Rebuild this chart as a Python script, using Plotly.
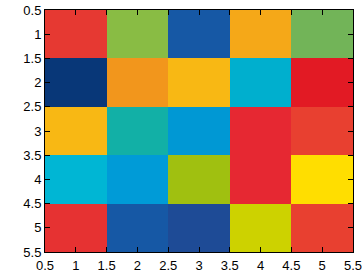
import plotly.graph_objects as go

# Cell colours (RGB), row by row (row 1 at top)
row1 = [[230, 57, 50], [137, 188, 68], [22, 88, 165], [245, 168, 24], [114, 180, 88]]
row2 = [[8, 55, 120], [242, 150, 28], [248, 184, 20], [0, 175, 206], [226, 26, 36]]
row3 = [[248, 184, 20], [18, 176, 166], [0, 152, 212], [230, 40, 50], [232, 64, 48]]
row4 = [[0, 182, 212], [0, 155, 215], [160, 192, 16], [230, 40, 50], [255, 222, 0]]
row5 = [[230, 50, 50], [22, 88, 165], [30, 75, 150], [205, 210, 0], [232, 64, 48]]
rgb = [row1, row2, row3, row4, row5]

tick_vals = [0.5, 1, 1.5, 2, 2.5, 3, 3.5, 4, 4.5, 5, 5.5]
tick_text = ["0.5", "1", "1.5", "2", "2.5", "3", "3.5", "4", "4.5", "5", "5.5"]

fig = go.Figure(go.Image(z=rgb, x0=1, dx=1, y0=1, dy=1, hoverinfo="skip"))

axis_style = dict(
    tickmode="array", tickvals=tick_vals, ticktext=tick_text,
    ticks="inside", ticklen=5, tickwidth=1, tickcolor="black",
    showline=True, linecolor="black", linewidth=1, mirror="ticks",
    showgrid=False, zeroline=False, automargin=False,
    tickfont=dict(family="Liberation Sans, Arial, sans-serif", size=13, color="black"),
)
fig.update_xaxes(range=[0.5, 5.5], ticklabelstandoff=1, **axis_style)
fig.update_yaxes(range=[5.5, 0.5], scaleanchor=False, **axis_style)

fig.update_layout(
    width=363, height=273,
    margin=dict(l=45, r=10, t=10, b=21),
    paper_bgcolor="white", plot_bgcolor="white",
)

fig.write_html("out.html")
